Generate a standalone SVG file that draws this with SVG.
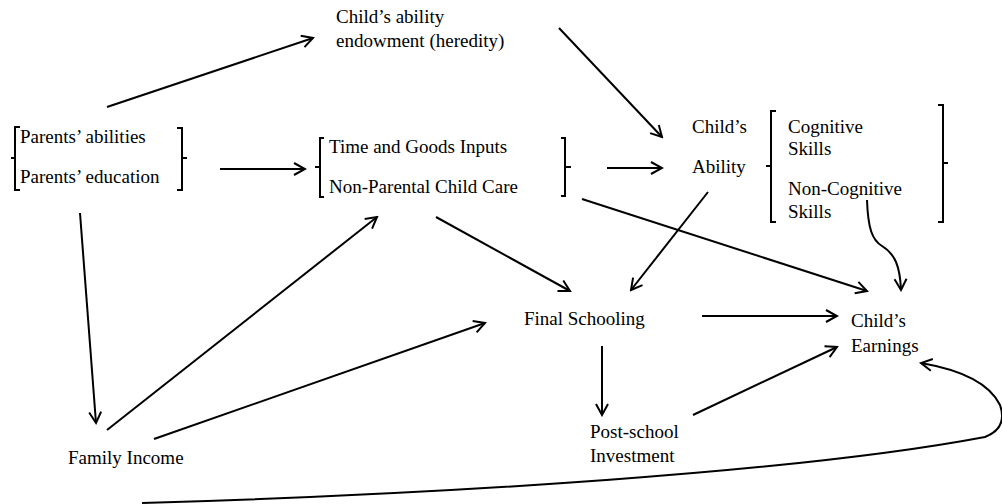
<svg xmlns="http://www.w3.org/2000/svg" width="1002" height="504" viewBox="0 0 1002 504">
<style>
text{font-size:19px;fill:#000}
.br{fill:none;stroke:#000;stroke-width:2}
.c{fill:none;stroke:#000;stroke-width:2;marker-end:url(#a)}
</style>
<defs>
<marker id="a" markerWidth="14" markerHeight="16" refX="12" refY="7" orient="auto" markerUnits="userSpaceOnUse">
<path d="M1,1 L12,7 L1,13" fill="none" stroke="#000" stroke-width="2"/>
</marker>
</defs>
<rect width="1002" height="504" fill="#fff"/>
<g font-family="'Liberation Serif', 'DejaVu Serif', serif">
<g id="endowment">
<text x="336" y="23">Child’s ability</text>
<text x="336" y="47">endowment (heredity)</text>
</g>
<g id="parents">
<path class="br" d="M20,127 H15 V190 H20 M15,158 H11"/>
<path class="br" d="M177,128 H182 V190 H177 M182,158 H187"/>
<text x="20" y="143">Parents’ abilities</text>
<text x="20" y="183">Parents’ education</text>
</g>
<g id="inputs">
<path class="br" d="M324,138 H320 V197 H324 M320,167 H315"/>
<path class="br" d="M561,138 H565 V196 H561 M565,167 H571"/>
<text x="329" y="153">Time and Goods Inputs</text>
<text x="329" y="193">Non-Parental Child Care</text>
</g>
<g id="ability">
<text x="692" y="133">Child’s</text>
<text x="692" y="173">Ability</text>
</g>
<g id="skills">
<path class="br" d="M776,111 H771 V222 H776 M771,166 H766"/>
<path class="br" d="M938,105 H943 V222 H938 M943,163 H948"/>
<text x="788" y="133">Cognitive</text>
<text x="788" y="155">Skills</text>
<text x="788" y="195">Non-Cognitive</text>
<text x="788" y="218">Skills</text>
</g>
<g id="schooling">
<text x="524" y="325">Final Schooling</text>
</g>
<g id="earnings">
<text x="851" y="327">Child’s</text>
<text x="851" y="352">Earnings</text>
</g>
<g id="postschool">
<text x="590" y="438">Post-school</text>
<text x="590" y="462">Investment</text>
</g>
<g id="income">
<text x="68" y="464">Family Income</text>
</g>
</g>
<g id="connectors">
<path class="c" d="M107,107 L313,38"/>
<path class="c" d="M559,28 L662,137"/>
<path class="c" d="M220,169 L305,169"/>
<path class="c" d="M607,168 L662,168"/>
<path class="c" d="M80,213 L96,423"/>
<path class="c" d="M107,430 L377,217"/>
<path class="c" d="M154,439 L485,323"/>
<path class="c" d="M436,217 L570,291"/>
<path class="c" d="M708,192 L631,290"/>
<path class="c" d="M582,199 L867,291"/>
<path class="c" d="M867,200 C868,228 872,240 882,246 C895,254 900,266 901,290"/>
<path class="c" d="M702,316 L837,316"/>
<path class="c" d="M602,346 L602,415"/>
<path class="c" d="M693,415 L837,347"/>
<path class="c" d="M142,503 C450,494 800,472 985,437 Q1008,428 1000,405 Q985,374 921,363"/>
</g>
</svg>
